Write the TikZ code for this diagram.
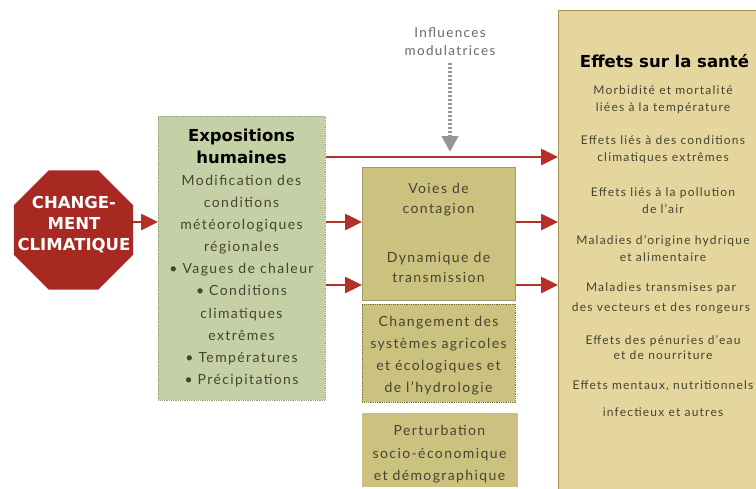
\documentclass[tikz,border=0pt]{standalone}
\usepackage{fontspec}
\setmainfont{Lato}[LetterSpace=10]
\newfontfamily\headfont{DejaVu Sans}
\usetikzlibrary{shapes.geometric,arrows.meta}
\definecolor{stopred}{RGB}{168,40,34}
\definecolor{arrred}{RGB}{178,48,40}
\definecolor{expofill}{RGB}{198,208,166}
\definecolor{expoline}{RGB}{150,160,120}
\definecolor{midfill}{RGB}{204,194,128}
\definecolor{midline}{RGB}{120,110,60}
\definecolor{effill}{RGB}{228,214,156}
\definecolor{efline}{RGB}{165,145,80}
\definecolor{bodytext}{RGB}{70,68,50}
\definecolor{infgrey}{RGB}{150,150,150}
\tikzset{
  boxnode/.style={draw, rectangle, inner sep=0pt, anchor=north west},
  redarr/.style={draw=arrred, line width=2.6pt, -{Triangle[length=17pt,width=16pt]}},
  bodyt/.style={text=bodytext, align=center, inner sep=0pt, font=\fontsize{14}{22.1}\selectfont},
  eft/.style={text=bodytext, align=center, inner sep=0pt, font=\fontsize{12}{17}\selectfont},
}
\begin{document}
\begin{tikzpicture}[x=1pt,y=-1pt]
\useasboundingbox (0,0) rectangle (756,488);
\fill[white] (0,0) rectangle (756,488);

% Effets box
\node[boxnode, fill=effill, draw=efline, line width=1pt, minimum width=220pt, minimum height=490pt] (effets) at (558,10) {};
% Expositions box
\node[boxnode, fill=expofill, draw=expoline, line width=0.8pt, densely dotted, minimum width=167pt, minimum height=284pt] (expo) at (158,116) {};
% middle boxes
\node[boxnode, fill=midfill, draw=midfill!80!black, line width=0.6pt, minimum width=153pt, minimum height=133pt] (voies) at (362,167) {};
\node[boxnode, fill=midfill, draw=midline, line width=0.8pt, densely dotted, minimum width=153pt, minimum height=98pt] (chgt) at (362,304) {};
\node[boxnode, fill=midfill, draw=midfill, line width=0.6pt, minimum width=155pt, minimum height=73pt] (pert) at (362,413) {};

% Stop sign
\node[regular polygon, regular polygon sides=8, fill=stopred, minimum size=129pt, inner sep=0pt] (oct) at (73.5,230) {};
\node[text=white, align=center, inner sep=0pt, font=\headfont\bfseries\fontsize{16.5}{21}\selectfont] (octtext) at (74,225) {CHANGE-\\MENT\\CLIMATIQUE};

% Expositions text
\node[bodyt, anchor=north] (expotext) at (241.5,128.5) {{\headfont\bfseries\color{black}\fontsize{16.5}{22.1}\selectfont Expositions}\\{\headfont\bfseries\color{black}\fontsize{16.5}{22.1}\selectfont humaines}\\Modification des\\conditions\\météorologiques\\régionales\\• Vagues de chaleur\\• Conditions\\climatiques\\extrêmes\\• Températures\\• Précipitations};

% middle texts
\node[bodyt, anchor=north, font=\fontsize{14}{20}\selectfont] (voiestext) at (438.5,182.5) {Voies de\\contagion};
\node[bodyt, anchor=north, font=\fontsize{14}{20}\selectfont] (dyntext) at (438.5,252) {Dynamique de\\transmission};
\node[bodyt, anchor=north, font=\fontsize{14}{22.3}\selectfont] (chgttext) at (438.5,315.5) {Changement des\\systèmes agricoles\\et écologiques et\\de l'hydrologie};
\node[bodyt, anchor=north, font=\fontsize{14}{22.5}\selectfont] (perttext) at (439.5,425) {Perturbation\\socio-économique\\et démographique};

% Influences
\node[text=infgrey!70!black, align=center, inner sep=0pt, font=\fontsize{13.5}{18}\selectfont, anchor=north] (infl) at (450,27) {Influences\\modulatrices};
\coordinate (inflend) at (450,152);
\draw[draw=infgrey, line width=4pt, dash pattern=on 2pt off 2pt, -{Triangle[length=16pt,width=16pt,fill=infgrey]}] ([yshift=-8pt]infl.south) -- (inflend);

% Effets text
\node[font=\headfont\bfseries\fontsize{16.5}{18}\selectfont, inner sep=0pt] (eftitle) at (664.5,61.5) {Effets sur la santé};
\node[eft] (ef1) at (663,99.5) {Morbidité et mortalité\\liées à la température};
\node[eft] (ef2) at (663,150) {Effets liés à des conditions\\climatiques extrêmes};
\node[eft] (ef3) at (663,200.5) {Effets liés à la pollution\\de l'air};
\node[eft] (ef4) at (663,248) {Maladies d'origine hydrique\\et alimentaire};
\node[eft, font=\fontsize{12}{20}\selectfont] (ef5) at (661,298.5) {Maladies transmises par\\des vecteurs et des rongeurs};
\node[eft, font=\fontsize{12}{15.5}\selectfont] (ef6) at (663,347.5) {Effets des pénuries d'eau\\et de nourriture};
\node[eft, font=\fontsize{12}{27}\selectfont] (ef7) at (663,398.5) {Effets mentaux, nutritionnels\\infectieux et autres};

% arrows
\coordinate (a0) at (oct.east |- 0,222);
\draw[redarr] (a0) -- (a0 -| expo.west);
\coordinate (a1) at (expo.east |- 0,157);
\draw[redarr] (a1) -- (a1 -| effets.west);
\coordinate (a2) at (expo.east |- 0,222);
\draw[redarr] (a2) -- (a2 -| voies.west);
\coordinate (a3) at (expo.east |- 0,285);
\draw[redarr] (a3) -- (a3 -| voies.west);
\coordinate (b2) at (voies.east |- 0,222);
\draw[redarr] (b2) -- (b2 -| effets.west);
\coordinate (b3) at (voies.east |- 0,285);
\draw[redarr] (b3) -- (b3 -| effets.west);
\end{tikzpicture}
\end{document}
